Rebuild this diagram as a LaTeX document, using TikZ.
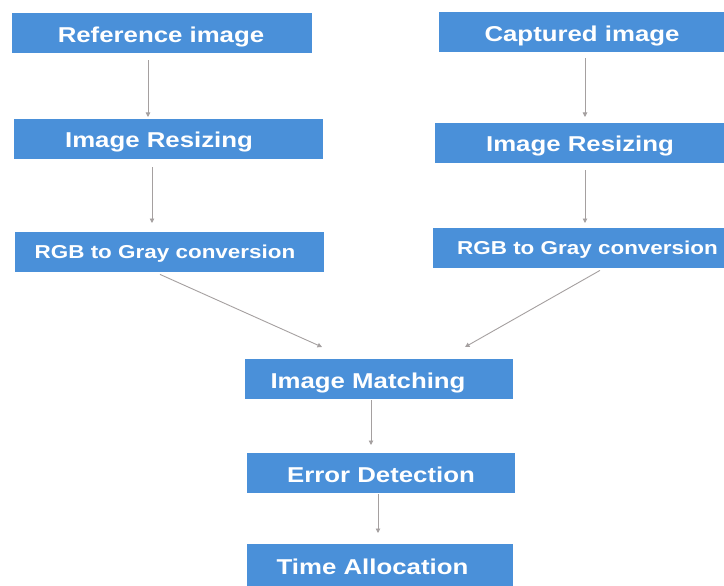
\documentclass[tikz,border=0pt]{standalone}
\usepackage{fontspec}
\setmainfont{Liberation Sans}
\usetikzlibrary{arrows.meta}
\definecolor{boxblue}{RGB}{74,144,217}
\definecolor{arrgray}{RGB}{165,160,160}
\begin{document}
\begin{tikzpicture}[x=1pt,y=-1pt,
  box/.style={fill=boxblue,draw=none,inner sep=0pt,anchor=north west},
  lbl/.style={text=white,font=\bfseries\fontsize{21.5}{24}\selectfont,inner sep=0pt,anchor=base},
  lblsm/.style={text=white,font=\bfseries\fontsize{18.7}{22}\selectfont,inner sep=0pt,anchor=base},
  arr/.style={draw=arrgray,line width=0.9pt,-{Triangle[length=4.5pt,width=4.5pt]}}]
\useasboundingbox (0,0) rectangle (724,586);
\fill[white] (0,0) rectangle (724,586);
% boxes
\node[box,minimum width=300pt,minimum height=40pt] (B1) at (12,13) {};
\node[box,minimum width=285pt,minimum height=40pt] (B2) at (439,12) {};
\node[box,minimum width=309pt,minimum height=40pt] (B3) at (14,119) {};
\node[box,minimum width=289pt,minimum height=40pt] (B4) at (435,123) {};
\node[box,minimum width=309pt,minimum height=40pt] (B5) at (15,232) {};
\node[box,minimum width=291pt,minimum height=40pt] (B6) at (433,228) {};
\node[box,minimum width=268pt,minimum height=40pt] (B7) at (245,359) {};
\node[box,minimum width=268pt,minimum height=40pt] (B8) at (247,453) {};
\node[box,minimum width=266pt,minimum height=42pt] (B9) at (247,544) {};
% labels
\node[lbl] (T1) at (161,43) {\scalebox{1.2}[1]{Reference image}};
\node[lbl] (T2) at (582,42) {\scalebox{1.2}[1]{Captured image}};
\node[lbl] (T3) at (159,148) {\scalebox{1.2}[1]{Image Resizing}};
\node[lbl] (T4) at (580,152) {\scalebox{1.2}[1]{Image Resizing}};
\node[lblsm] (T5) at (165,258) {\scalebox{1.2}[1]{RGB to Gray conversion}};
\node[lblsm] (T6) at (587.5,254) {\scalebox{1.2}[1]{RGB to Gray conversion}};
\node[lbl] (T7) at (368,388) {\scalebox{1.2}[1]{Image Matching}};
\node[lbl] (T8) at (381,482) {\scalebox{1.2}[1]{Error Detection}};
\node[lbl] (T9) at (372.5,574) {\scalebox{1.2}[1]{Time Allocation}};
% connectors
\draw[arr] ([shift={(136,7)}]B1.south west) -- ([shift={(134,-2)}]B3.north west);
\draw[arr] ([shift={(138,8)}]B3.south west) -- ([shift={(137,-9)}]B5.north west);
\draw[arr] ([shift={(146,6)}]B2.south west) -- ([shift={(150,-6)}]B4.north west);
\draw[arr] ([shift={(150,7)}]B4.south west) -- ([shift={(152,-5)}]B6.north west);
\draw[arr] ([shift={(145,2)}]B5.south west) -- ([shift={(77,-12)}]B7.north west);
\draw[arr] ([shift={(167,2)}]B6.south west) -- ([shift={(220,-12)}]B7.north west);
\draw[arr] ([shift={(126,1)}]B7.south west) -- ([shift={(124,-8)}]B8.north west);
\draw[arr] ([shift={(131,1)}]B8.south west) -- ([shift={(131,-11)}]B9.north west);
\end{tikzpicture}
\end{document}
